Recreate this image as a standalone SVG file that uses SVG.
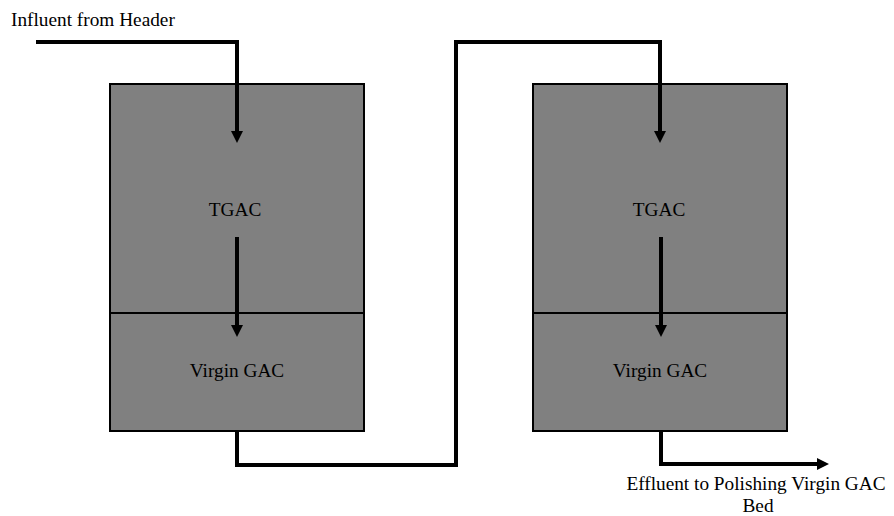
<svg xmlns="http://www.w3.org/2000/svg" width="894" height="516" viewBox="0 0 894 516">
<style>
.box{fill:#808080;stroke:#000;stroke-width:2}
.div{stroke:#000;stroke-width:2}
.pipe{fill:none;stroke:#000;stroke-width:4;stroke-linejoin:miter;stroke-linecap:butt}
.lbl{font-family:"Liberation Serif","Times New Roman",serif;font-size:19.3px;fill:#000}
.mid{text-anchor:middle}
</style>
<defs>
<marker id="ah" viewBox="0 0 12 12" refX="0" refY="6" markerWidth="12" markerHeight="12" markerUnits="userSpaceOnUse" orient="auto">
<path d="M0,0 L12,6 L0,12 z" fill="#000"/>
</marker>
</defs>
<g id="col1">
<rect class="box" x="110" y="84" width="254" height="347"/>
<line class="div" x1="110" y1="313" x2="364" y2="313"/>
<text class="lbl mid" x="235" y="216">TGAC</text>
<text class="lbl mid" x="237" y="377">Virgin GAC</text>
</g>
<g id="col2">
<rect class="box" x="533" y="84" width="254" height="347"/>
<line class="div" x1="533" y1="313" x2="787" y2="313"/>
<text class="lbl mid" x="659" y="216">TGAC</text>
<text class="lbl mid" x="660" y="377">Virgin GAC</text>
</g>
<g id="labels">
<text class="lbl" x="11" y="26">Influent from Header</text>
<text class="lbl mid" x="756" y="490">Effluent to Polishing Virgin GAC</text>
<text class="lbl mid" x="758" y="512">Bed</text>
</g>
<g id="connectors">
<path class="pipe" d="M36,42 H237 V131" marker-end="url(#ah)"/>
<path class="pipe" d="M237,237 V325" marker-end="url(#ah)"/>
<path class="pipe" d="M237,431 V465 H456 V42 H660 V131" marker-end="url(#ah)"/>
<path class="pipe" d="M661,237 V325" marker-end="url(#ah)"/>
<path class="pipe" d="M661,431 V464 H817" marker-end="url(#ah)"/>
</g>
</svg>
